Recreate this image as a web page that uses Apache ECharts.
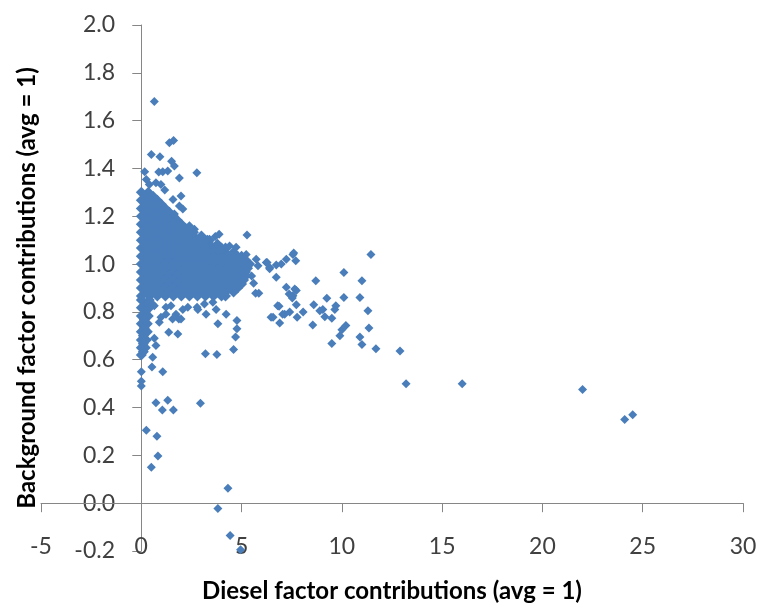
<!DOCTYPE html>
<html>
<head>
<meta charset="utf-8">
<script src="https://cdn.jsdelivr.net/npm/echarts@6/dist/echarts.min.js"></script>
<style>
  html, body { margin: 0; padding: 0; background: #fff; }
  #chart { width: 760px; height: 608px; }
</style>
</head>
<body>
<div id="chart"></div>
<script>
// dense cloud, read row by row: [background, [diesel values on that row]]
const coreRows = [
  [1.300, [0.0, 0.35]],
  [1.283, [0.2, 0.6]],
  [1.267, [0.0, 0.4, 0.8]],
  [1.250, [0.2, 0.6, 1.0]],
  [1.233, [0.0, 0.4, 0.8, 1.2]],
  [1.217, [0.2, 0.6, 1.0, 1.4]],
  [1.200, [0.0, 0.4, 0.8, 1.2, 1.6]],
  [1.183, [0.2, 0.6, 1.0, 1.4, 1.8]],
  [1.167, [0.0, 0.4, 0.8, 1.2, 1.6, 2.0]],
  [1.150, [0.2, 0.6, 1.0, 1.4, 1.8, 2.2]],
  [1.133, [0.0, 0.4, 0.8, 1.2, 1.6, 2.0, 2.4, 2.6]],
  [1.117, [0.2, 0.6, 1.0, 1.4, 1.8, 2.2, 2.6, 3.0]],
  [1.100, [0.0, 0.4, 0.8, 1.2, 1.6, 2.0, 2.4, 2.8, 3.2, 3.4]],
  [1.083, [0.2, 0.6, 1.0, 1.4, 1.8, 2.2, 2.6, 3.0, 3.4, 3.8]],
  [1.067, [0.0, 0.4, 0.8, 1.2, 1.6, 2.0, 2.4, 2.8, 3.2, 3.6, 4.0, 4.2]],
  [1.050, [0.2, 0.6, 1.0, 1.4, 1.8, 2.2, 2.6, 3.0, 3.4, 3.8, 4.2, 4.6]],
  [1.033, [0.0, 0.4, 0.8, 1.2, 1.6, 2.0, 2.4, 2.8, 3.2, 3.6, 4.0, 4.4, 4.8, 5.0]],
  [1.017, [0.2, 0.6, 1.0, 1.4, 1.8, 2.2, 2.6, 3.0, 3.4, 3.8, 4.2, 4.6, 5.0, 5.2]],
  [1.000, [0.0, 0.4, 0.8, 1.2, 1.6, 2.0, 2.4, 2.8, 3.2, 3.6, 4.0, 4.4, 4.8, 5.2]],
  [0.983, [0.2, 0.6, 1.0, 1.4, 1.8, 2.2, 2.6, 3.0, 3.4, 3.8, 4.2, 4.6, 5.0, 5.3]],
  [0.967, [0.0, 0.4, 0.8, 1.2, 1.6, 2.0, 2.4, 2.8, 3.2, 3.6, 4.0, 4.4, 4.8, 5.2]],
  [0.950, [0.2, 0.6, 1.0, 1.4, 1.8, 2.2, 2.6, 3.0, 3.4, 3.8, 4.2, 4.6, 5.0, 5.2]],
  [0.933, [0.0, 0.4, 0.8, 1.2, 1.6, 2.0, 2.4, 2.8, 3.2, 3.6, 4.0, 4.4, 4.8, 5.1]],
  [0.917, [0.2, 0.6, 1.0, 1.4, 1.8, 2.2, 2.6, 3.0, 3.4, 3.8, 4.2, 4.6, 5.0]],
  [0.900, [0.0, 0.4, 0.8, 1.2, 1.6, 2.0, 2.4, 2.8, 3.2, 3.6, 4.0, 4.4, 4.8]],
  [0.883, [0.2, 0.6, 1.0, 1.4, 1.8, 2.2, 2.6, 3.0, 3.4, 3.8, 4.2, 4.6]],
  [0.867, [0.0, 0.4, 0.8, 1.2, 1.6, 2.0, 2.4, 2.8, 3.2, 3.6, 4.0, 4.2]],
  [0.850, [0.0, 0.4]],
  [0.833, [0.2, 0.5]],
  [0.817, [0.0, 0.4]],
  [0.800, [0.2]],
  [0.783, [0.0, 0.35]],
  [0.767, [0.15]],
  [0.750, [0.0, 0.3]],
  [0.733, [0.15]],
  [0.717, [0.0, 0.3]],
  [0.700, [0.1]],
  [0.683, [0.0, 0.25]],
  [0.667, [0.1]],
  [0.650, [0.0, 0.2]],
  [0.633, [0.1]],
  [0.620, [0.0]]
];

// loose points above the cloud: [diesel, background]
const upperPoints = [
  [0.65, 1.68], [1.4, 1.507], [1.61, 1.517], [0.5, 1.458], [0.93, 1.449],
  [1.51, 1.43], [1.65, 1.41], [1.07, 1.386], [1.32, 1.389], [0.87, 1.385],
  [2.77, 1.382], [1.9, 1.36], [0.17, 1.386], [0.25, 1.354], [0.4, 1.333],
  [0.73, 1.34], [0.98, 1.333], [1.17, 1.31], [1.58, 1.27], [1.98, 1.285],
  [1.9, 1.243], [2.07, 1.23], [1.65, 1.21], [2.4, 1.16], [2.65, 1.146],
  [2.98, 1.118], [3.3, 1.104], [3.69, 1.115], [3.88, 1.125], [5.27, 1.122],
  [4.4, 1.076], [4.73, 1.07], [5.23, 1.04], [5.73, 1.02], [6.23, 1.007], [6.73, 0.996]
];

// spread to the right of the cloud (x 5 - 8)
const midPoints = [
  [7.6, 1.046], [7.7, 1.014], [7.23, 1.02], [6.98, 1.0], [6.4, 0.98],
  [6.73, 0.945], [7.23, 0.903], [7.65, 0.896], [7.37, 0.875], [7.53, 0.858],
  [7.73, 0.83], [6.87, 0.824], [8.07, 0.8], [7.4, 0.8], [7.15, 0.79],
  [7.77, 0.778], [6.57, 0.778], [6.9, 0.754], [7.56, 1.04], [6.27, 1.007],
  [5.7, 0.878], [5.86, 0.878], [7.73, 0.89], [7.56, 0.868], [6.8, 0.826],
  [7.05, 0.79], [6.47, 0.778], [5.82, 0.993], [4.9, 1.0], [6.4, 0.986],
  [5.5, 0.95], [5.6, 0.92], [5.45, 1.0]
];

// group around x 8.5 - 13 and the far outliers
const farPoints = [
  [11.45, 1.04], [10.1, 0.965], [11.0, 0.93], [8.7, 0.93], [10.9, 0.86],
  [10.1, 0.86], [9.25, 0.857], [11.3, 0.805], [11.35, 0.733], [11.7, 0.646],
  [12.9, 0.636], [9.7, 0.826], [9.65, 0.81], [9.5, 0.774], [9.05, 0.81],
  [8.9, 0.805], [8.6, 0.83], [9.15, 0.78], [8.55, 0.745], [10.2, 0.743],
  [10.0, 0.725], [9.9, 0.7], [9.5, 0.668], [10.9, 0.695], [11.0, 0.664],
  [13.2, 0.5], [16.0, 0.5], [22.0, 0.475], [24.1, 0.35], [24.5, 0.37]
];

// points under the cloud, x 0 - 5
const lowerPoints = [
  [0.65, 0.826], [1.23, 0.82], [1.48, 0.826], [1.73, 0.79], [2.07, 0.81],
  [2.32, 0.82], [2.82, 0.81], [3.15, 0.833], [3.57, 0.84], [3.73, 0.81],
  [4.23, 0.79], [3.82, 0.75], [4.77, 0.764], [4.77, 0.73], [4.7, 0.695],
  [4.6, 0.643], [3.2, 0.625], [3.77, 0.622], [1.82, 0.708], [1.37, 0.715],
  [0.65, 0.69], [0.73, 0.66], [0.57, 0.61], [0.53, 0.57], [1.07, 0.55],
  [0.0, 0.55], [0.0, 0.51], [0.0, 0.49], [1.87, 0.77], [1.56, 0.77],
  [1.98, 0.77], [1.23, 0.79], [0.9, 0.757], [0.98, 0.778], [2.78, 0.82],
  [3.23, 0.79], [0.73, 0.42], [1.32, 0.43], [1.05, 0.39], [1.6, 0.39],
  [2.95, 0.418], [0.25, 0.305], [0.78, 0.28], [0.83, 0.197], [0.5, 0.15],
  [4.32, 0.0625], [3.82, -0.022], [4.43, -0.135], [4.95, -0.195]
];

const xTitle = 'Diesel factor contributions (avg = 1)';
const yTitle = 'Background factor contributions (avg = 1)';

const corePoints = [];
coreRows.forEach(function (row) {
  row[1].forEach(function (x) { corePoints.push([x, row[0]]); });
});
const loosePoints = upperPoints.concat(midPoints, farPoints, lowerPoints);

const chart = echarts.init(document.getElementById('chart'));
const font = 'Lato, "DejaVu Sans", sans-serif';
const axisColor = '#868686';
const pointColor = '#4A7EBB';

// grid spans -5..30 and -0.2..2.0; both axis lines sit on zero,
// labels keep to the grid edge so they are pulled in with negative margins
chart.setOption({
  animation: false,
  textStyle: { fontFamily: font },
  grid: { left: 41, right: 17, top: 25, bottom: 55 },
  xAxis: {
    type: 'value',
    min: -5,
    max: 30,
    interval: 5,
    name: xTitle,
    nameLocation: 'middle',
    nameGap: 29,
    nameTextStyle: { fontSize: 24, lineHeight: 22, fontWeight: 'bold', color: '#000' },
    axisLine: { show: true, onZero: true, lineStyle: { color: axisColor, width: 1 } },
    axisTick: { show: true, length: 9, lineStyle: { color: axisColor } },
    axisLabel: {
      margin: -16, fontSize: 23, color: '#404040',
      showMinLabel: true, showMaxLabel: true
    },
    splitLine: { show: false }
  },
  yAxis: {
    type: 'value',
    min: -0.2,
    max: 2.0,
    interval: 0.2,
    name: yTitle,
    nameLocation: 'middle',
    nameGap: 1,
    nameTextStyle: { fontSize: 24, lineHeight: 26, fontWeight: 'bold', color: '#000' },
    axisLine: { show: true, onZero: true, lineStyle: { color: axisColor, width: 1 } },
    axisTick: { show: true, length: 9, lineStyle: { color: axisColor } },
    axisLabel: {
      margin: -74, fontSize: 23, color: '#404040',
      showMinLabel: true, showMaxLabel: true,
      formatter: function (v) { return v.toFixed(1); }
    },
    splitLine: { show: false }
  },
  series: [
    {
      type: 'scatter',
      symbol: 'diamond',
      symbolSize: 11,
      itemStyle: { color: pointColor, opacity: 1 },
      data: corePoints
    },
    {
      type: 'scatter',
      symbol: 'diamond',
      symbolSize: 9,
      itemStyle: { color: pointColor, opacity: 1 },
      data: loosePoints,
      // keeps the horizontal axis line on zero visible
      markLine: {
        silent: true,
        symbol: 'none',
        label: { show: false },
        lineStyle: { color: axisColor, width: 1, type: 'solid' },
        data: [{ yAxis: 0 }]
      }
    }
  ]
});
</script>
</body>
</html>
